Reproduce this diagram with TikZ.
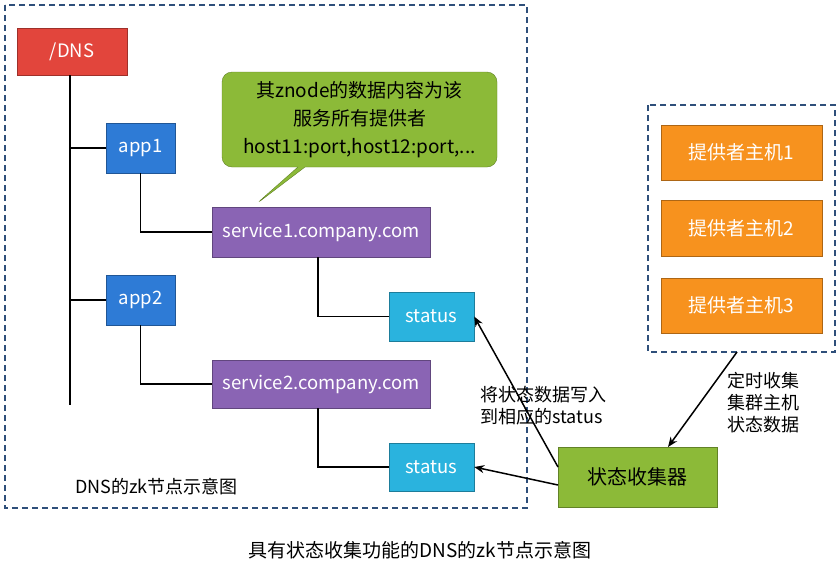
\documentclass[tikz,border=0pt]{standalone}
\usepackage{fontspec}
\setmainfont{Noto Sans CJK SC}
\usetikzlibrary{shapes.callouts,arrows.meta}
\definecolor{cred}{HTML}{E2453C}
\definecolor{cblue}{HTML}{2E7BD6}
\definecolor{cpurp}{HTML}{8A64B4}
\definecolor{ccyan}{HTML}{2AB3DE}
\definecolor{cgreen}{HTML}{8CBA38}
\definecolor{corange}{HTML}{F7921E}
\definecolor{cdash}{HTML}{2E4F7A}
\begin{document}
\begin{tikzpicture}[x=1pt,y=-1pt,
  box/.style={draw=#1!70!black,fill=#1,text=white,font=\fontsize{18.5}{20}\selectfont,inner sep=0pt},
  dbox/.style={draw=cdash,dash pattern=on 6pt off 4pt,line width=1.5pt},
  ln/.style={line width=1.6pt},
  ar/.style={line width=1.5pt,-{Stealth[length=10pt,width=8pt]}}]
\useasboundingbox (0,0) rectangle (840,568);
\draw[dbox] (5,5) rectangle (527,508);
\draw[dbox] (648,105) rectangle (835,352);
\node[box=cred,minimum width=110pt,minimum height=47pt] (dns) at (72,51.5) {/DNS};
\node[box=cblue,minimum width=69pt,minimum height=50pt] (app1) at (140.5,148) {app1};
\node[box=cblue,minimum width=69pt,minimum height=50pt] (app2) at (140.5,300) {app2};
\node[box=cpurp,minimum width=218pt,minimum height=50pt] (s1) at (321,232) {service1.company.com};
\node[box=cpurp,minimum width=218pt,minimum height=48pt] (s2) at (321,384) {service2.company.com};
\node[box=ccyan,minimum width=85pt,minimum height=49pt] (st1) at (431.5,316.5) {status};
\node[box=ccyan,minimum width=85pt,minimum height=48pt] (st2) at (431.5,467) {status};
\coordinate (vend) at (70,405);
\draw[ln] (70,75) -- (vend);
\draw[ln] (70,148) -- (app1.west);
\draw[ln] (70,300) -- (app2.west);
\draw[ln] (app1.south) |- (s1.west);
\draw[ln] (app2.south) |- (s2.west);
\draw[ln] (318,257) |- (st1.west);
\draw[ln] (318,408) |- (st2.west);
\node[rectangle callout,rounded corners=10pt,draw=cgreen!70!black,fill=cgreen,minimum width=275pt,minimum height=95pt,
  callout absolute pointer={(255,205)},align=center,font=\fontsize{19}{28}\selectfont,inner sep=0pt] (call) at (359.5,119.5)
  {其znode的数据内容为该\\服务所有提供者\\host11:port,host12:port,...};
\node[box=corange,minimum width=161pt,minimum height=55pt,font=\fontsize{19}{21}\selectfont] (p1) at (741.5,152.5) {提供者主机1};
\node[box=corange,minimum width=161pt,minimum height=56pt,font=\fontsize{19}{21}\selectfont] (p2) at (741.5,228) {提供者主机2};
\node[box=corange,minimum width=161pt,minimum height=55pt,font=\fontsize{19}{21}\selectfont] (p3) at (741.5,305.5) {提供者主机3};
\node[box=cgreen,text=black,minimum width=159pt,minimum height=60pt,font=\fontsize{20}{22}\selectfont] (col) at (637.5,477) {状态收集器};
\coordinate (rb) at (737,352);
\draw[ar] (rb) -- (668,447);
\draw[ar] (558,467) -- (st1.east);
\draw[ar] (558,485) -- (st2.east);
\node[anchor=north west,align=left,font=\fontsize{18}{22}\selectfont,inner sep=0pt] (l1) at (727,372) {定时收集\\集群主机\\状态数据};
\node[anchor=north west,align=left,font=\fontsize{18}{22}\selectfont,inner sep=0pt] (l2) at (480,386) {将状态数据写入\\到相应的status};
\node[anchor=west,font=\fontsize{18}{20}\selectfont,inner sep=0pt] (cap1) at (75,487) {DNS的zk节点示意图};
\node[font=\fontsize{19}{21}\selectfont] (cap) at (420,550) {具有状态收集功能的DNS的zk节点示意图};
\end{tikzpicture}
\end{document}
